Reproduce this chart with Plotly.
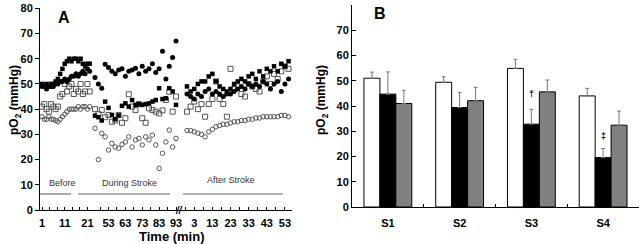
import plotly.graph_objects as go

# ---------------- Panel A data (pO2, mmHg) ----------------
before_min = list(range(1, 23))
before_fsq = [50, 49, 50, 49, 50, 50, 51, 52, 54, 56, 58, 59, 60, 59, 60, 60, 59, 60, 58, 57, 58, 58]
before_fci = [49, 49, 48, 49, 49, 49, 50, 50, 51, 51, 52, 51, 52, 53, 53, 54, 53, 54, 55, 54, 56, 55]
before_osq = [41, 42, 40, 39, 42, 41, 40, 41, 45, 46, 50, 47, 49, 50, 46, 48, 47, 50, 46, 47, 50, 47]
before_oci = [37, 36, 36, 37, 36, 36, 35.5, 35, 36, 37, 38, 39, 40, 40, 40, 40, 41, 40, 41, 41, 40, 41]

during_min = list(range(45, 94, 2))
during_fci = [52.6, 50, 48.3, 57.8, 56.5, 55, 54, 55.5, 56, 53, 55, 55.5, 56.2, 54, 57, 55, 56, 58,
              54.5, 56, 63, 52, 57, 60.5, 67]
during_fsq = [37.4, 36.8, 35.5, 43, 40.5, 37.7, 36, 37.5, 41.3, 42.3, 41, 43.6, 41.7, 42, 41.7, 42,
              42.3, 43, 43.6, 48.3, 44, 44.3, 48.3, 47, 41.7]
during_osq = [40, 38, 39.7, 36.8, 37.7, 35, 35.5, 37.7, 34.6, 36.4, 45.9, 41, 39.7, 42, 36.4, 34.6,
              40.3, 39.7, 39, 38.3, 39.5, 43.6, 46.9, 39, 45]
during_oci = [32.4, 20, 30.4, 29, 23.8, 26.4, 25, 24.5, 26, 27, 29, 25, 27.8, 28.4, 25.8, 29, 27.8,
              29.7, 25.8, 16.5, 22.5, 27, 31.7, 25, 28.4]

after_min = list(range(-1, 58, 2))
after_fsq = [49, 47, 48, 50, 51, 51, 53, 54, 51, 49, 48, 47, 48, 50, 51, 52, 51, 53, 54, 52, 55, 53,
             56, 55, 57, 55, 58, 57, 59, 55]
after_fci = [46, 45, 44, 46, 45, 47, 48, 46, 47, 46, 45, 46, 46, 47, 48, 49, 48, 50, 49, 50, 49, 51,
             50, 48, 50, 51, 47, 50, 52, 51]
after_osq = [39, 41, 43, 40, 42, 37, 42, 44, 51, 44, 42, 37, 56, 48, 49, 46, 45, 50, 49, 48, 47, 51,
             53, 50, 54, 52, 55, 57, 56, 54]
after_oci = [31.5, 31.5, 31, 30.5, 30, 29, 31, 32, 33, 33.5, 34, 34, 34.5, 35, 35, 35.5, 35.5, 36, 36,
             36.5, 36.5, 37, 37, 37, 37, 37, 37.5, 37.5, 37, 37]

before_ticks = [1, 11, 21]
during_ticks = [53, 63, 73, 83, 93]
after_ticks = [3, 13, 23, 33, 43, 53]

# ---------------- Panel B data ----------------
sites = ["S1", "S2", "S3", "S4"]
white_vals = [51, 49.4, 54.9, 44]
white_err = [2.4, 2.2, 3.6, 3.0]
black_vals = [44.7, 39.4, 32.8, 19.6]
black_err = [8.8, 6.0, 5.9, 3.6]
grey_vals = [41, 42.1, 45.6, 32.4]
grey_err = [5.2, 5.3, 4.7, 5.6]

W, H = 640, 244
FONT = "Arial, Liberation Sans, sans-serif"


def fx(p):
    return p / W


def fy(p):
    return 1 - p / H


styles = {
    "fsq": dict(symbol="square", size=4.5, color="black", line=dict(width=0)),
    "fci": dict(symbol="circle", size=5, color="black", line=dict(width=0)),
    "osq": dict(symbol="square-open", size=5, color="#555555", line=dict(width=1)),
    "oci": dict(symbol="circle-open", size=4.5, color="#555555", line=dict(width=1)),
}

fig = go.Figure()

segments = [
    ("x", before_min, {"oci": before_oci, "osq": before_osq, "fci": before_fci, "fsq": before_fsq}),
    ("x2", during_min, {"oci": during_oci, "osq": during_osq, "fci": during_fci, "fsq": during_fsq}),
    ("x3", after_min, {"oci": after_oci, "osq": after_osq, "fci": after_fci, "fsq": after_fsq}),
]
for xa, mins, series in segments:
    for key, vals in series.items():
        fig.add_trace(go.Scatter(x=mins, y=vals, mode="markers", marker=styles[key],
                                 xaxis=xa, yaxis="y", showlegend=False, hoverinfo="skip",
                                 cliponaxis=False))

for name, vals, err, col in [("white", white_vals, white_err, "white"),
                             ("black", black_vals, black_err, "black"),
                             ("grey", grey_vals, grey_err, "#808080")]:
    fig.add_trace(go.Bar(x=sites, y=vals, marker=dict(color=col, line=dict(color="black", width=1)),
                         error_y=dict(type="data", array=err, arrayminus=[0] * len(err), symmetric=False,
                                      color="#777777", thickness=1, width=2),
                         xaxis="x4", yaxis="y2", showlegend=False, name=name))

tickfont = dict(family=FONT, size=11, color="black", weight="bold")
xcommon = dict(showline=True, linecolor="black", linewidth=1, showgrid=False, zeroline=False,
               ticks="inside", ticklen=3, tickcolor="black", tickfont=tickfont, anchor="y",
               ticklabelstandoff=3, automargin=False)

fig.update_layout(
    width=W, height=H, margin=dict(l=0, r=0, t=0, b=0, autoexpand=False),
    paper_bgcolor="white", plot_bgcolor="white", barmode="group", bargap=1 / 3, bargroupgap=0,
    font=dict(family=FONT, color="black"),
    xaxis=dict(domain=[fx(40), fx(92)], range=[0.12, 23.03], tickvals=before_ticks,
               minor=dict(ticks="inside", ticklen=3, tick0=1, dtick=10 / 3, tickcolor="black"), **xcommon),
    xaxis2=dict(domain=[fx(92), fx(181)], range=[43.22, 95.96], tickvals=during_ticks,
                minor=dict(ticks="inside", ticklen=3, tick0=53, dtick=5, tickcolor="black"), **xcommon),
    xaxis3=dict(domain=[fx(181), fx(292)], range=[-4.3, 56.9], tickvals=after_ticks,
                minor=dict(ticks="inside", ticklen=3, tick0=3, dtick=5, tickcolor="black"), **xcommon),
    yaxis=dict(domain=[fy(210), fy(8.3)], range=[0, 80], dtick=10, anchor="x", showline=True,
               linecolor="black", linewidth=1, showgrid=False, zeroline=False, ticks="outside",
               ticklen=4, tickcolor="black", tickfont=tickfont, automargin=False),
    xaxis4=dict(domain=[fx(352), fx(639)], anchor="y2", type="category", showline=True,
                linecolor="black", linewidth=1, showgrid=False, zeroline=False, ticks="inside",
                tickson="boundaries", ticklen=3, tickcolor="black", tickfont=tickfont,
                ticklabelstandoff=6, automargin=False),
    yaxis2=dict(domain=[fy(207), fy(5)], range=[0, 80], dtick=10, anchor="x4", showline=True,
                linecolor="black", linewidth=1, showgrid=False, zeroline=False, ticks="inside",
                ticklen=4, tickcolor="black", tickfont=tickfont, automargin=False),
)


def note(text, px, py, size, color="black", weight="normal", angle=0):
    return dict(text=text, x=fx(px), y=fy(py), xref="paper", yref="paper", showarrow=False,
                xanchor="center", yanchor="middle", textangle=angle,
                font=dict(family=FONT, size=size, color=color, weight=weight))


ytitle = "pO<sub>2</sub> (mmHg)"
ann = [
    note(ytitle, 15, 100, 12, weight="bold", angle=-90),
    note(ytitle, 322, 100, 12, weight="bold", angle=-90),
    note("Time (min)", 172, 236, 13, weight="bold"),
    note("A", 64, 17, 16, weight="bold"),
    note("B", 380, 14, 16, weight="bold"),
    note("Before", 62, 183, 9, color="#333333"),
    note("During Stroke", 129, 183, 9, color="#333333"),
    note("After Stroke", 231, 180, 9, color="#333333"),
    note("<i>//</i>", 179, 210, 10, weight="bold"),
    dict(text="†", x="S3", y=44.7, xref="x4", yref="y2", showarrow=False,
         xanchor="center", yanchor="middle", font=dict(family=FONT, size=9, weight="bold")),
    dict(text="‡", x="S4", y=28.2, xref="x4", yref="y2", showarrow=False,
         xanchor="center", yanchor="middle", font=dict(family=FONT, size=9, weight="bold")),
]
fig.update_layout(annotations=ann)

shapes = [
    dict(type="line", xref="paper", yref="paper", x0=fx(40), x1=fx(71), y0=fy(194), y1=fy(194),
         line=dict(color="#555555", width=1)),
    dict(type="line", xref="paper", yref="paper", x0=fx(78), x1=fx(170), y0=fy(194), y1=fy(194),
         line=dict(color="#999999", width=1.5)),
    dict(type="line", xref="paper", yref="paper", x0=fx(183), x1=fx(283), y0=fy(194), y1=fy(194),
         line=dict(color="#999999", width=1.5)),
]
fig.update_layout(shapes=shapes)

fig.write_html("out.html", config={"displayModeBar": False},
               post_script="document.body.style.margin='0';")
